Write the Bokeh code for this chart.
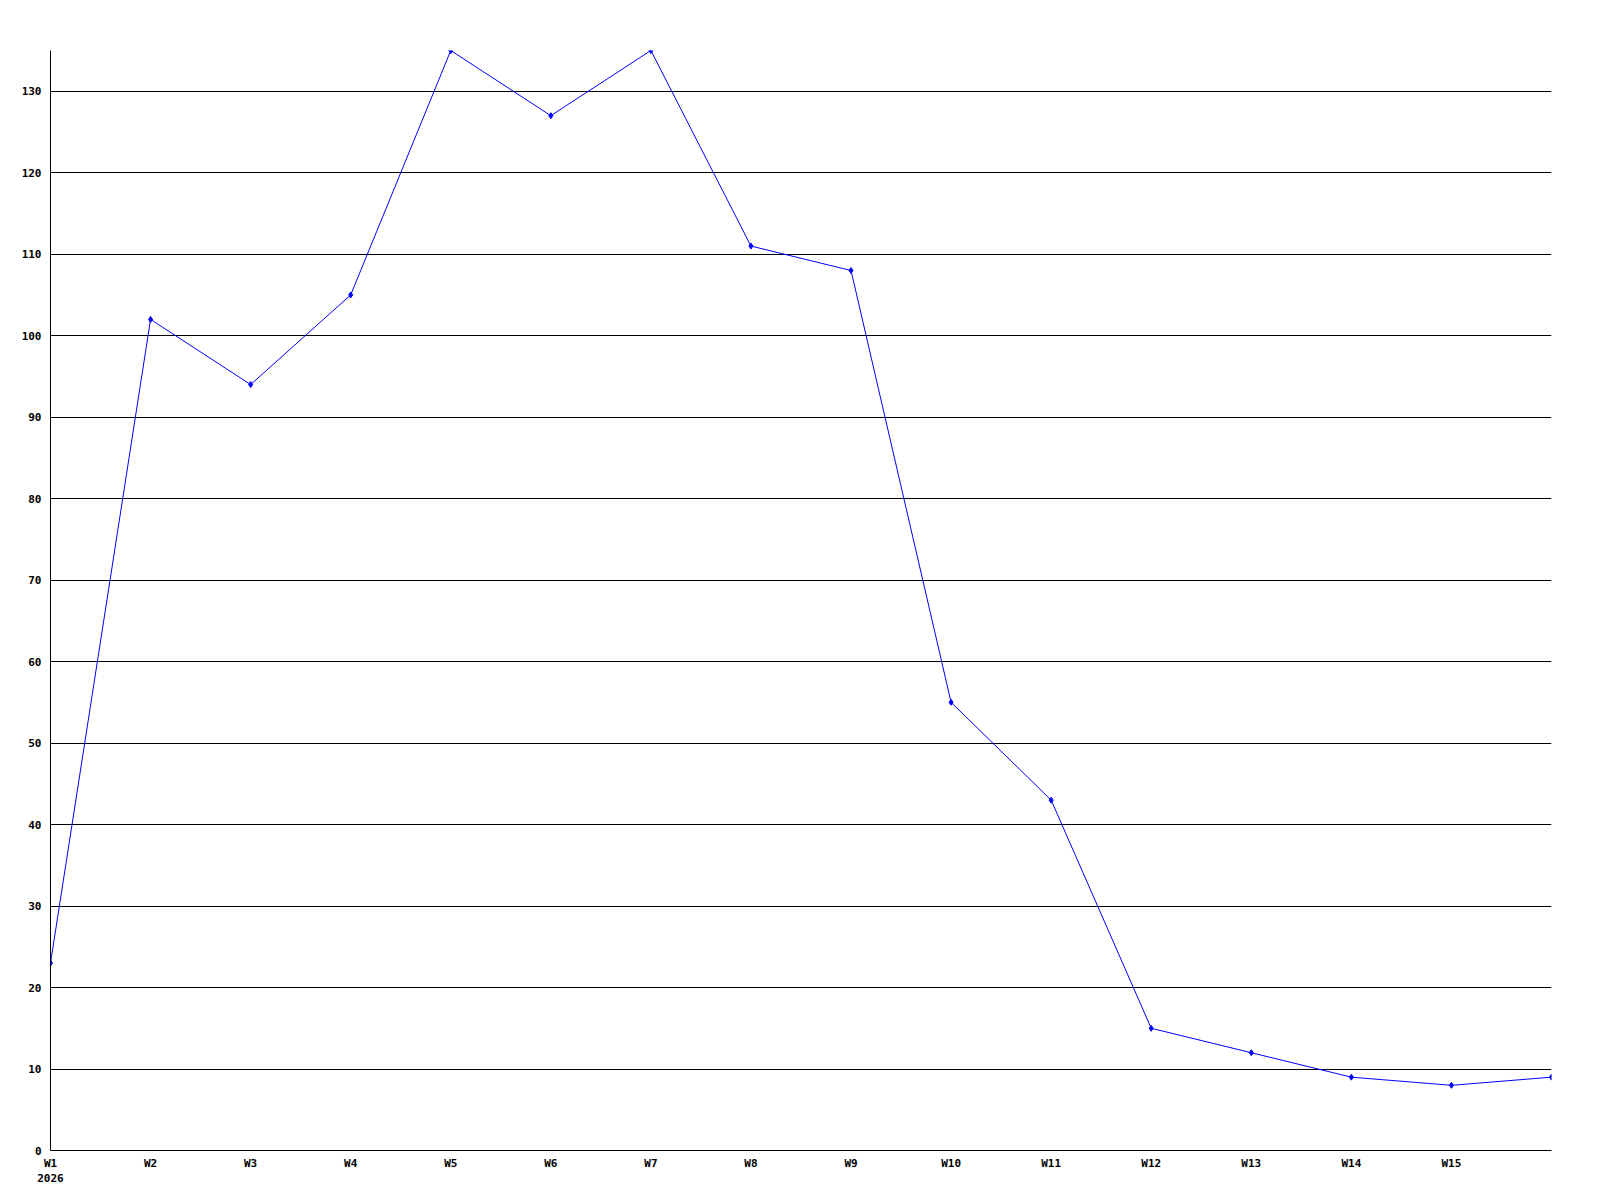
from bokeh.plotting import figure
from bokeh.models import FixedTicker, Range1d, ColumnDataSource
from bokeh.embed import file_html
from bokeh.resources import INLINE

week_labels = ["W1\n2026", "W2", "W3", "W4", "W5", "W6", "W7", "W8", "W9",
               "W10", "W11", "W12", "W13", "W14", "W15", "W16"]
values = [23, 102, 94, 105, 135, 127, 135, 111, 108, 55, 43, 15, 12, 9, 8, 9]
y_ticks = [0, 10, 20, 30, 40, 50, 60, 70, 80, 90, 100, 110, 120, 130]
labeled_weeks = 15

x = list(range(len(values)))
src = ColumnDataSource(dict(x=x, y=values))

p = figure(width=1592, height=1192, output_backend="svg", toolbar_location=None,
           x_range=Range1d(0, len(values) - 1), y_range=Range1d(0, 135),
           min_border_left=50, min_border_right=41, min_border_top=50, min_border_bottom=42)
p.outline_line_color = None
p.background_fill_color = "white"
p.border_fill_color = "white"

p.line("x", "y", source=src, line_color="#0000ff", line_width=1)
p.scatter("x", "y", source=src, marker="diamond", size=6, color="#0000ff")

font = "DejaVu Sans Mono"
p.xaxis.ticker = FixedTicker(ticks=x[:labeled_weeks])
p.xaxis.major_label_overrides = {i: week_labels[i] for i in range(labeled_weeks)}
p.yaxis.ticker = FixedTicker(ticks=y_ticks)
for ax in (p.xaxis, p.yaxis):
    ax.major_tick_in = 0
    ax.major_tick_out = 0
    ax.minor_tick_in = 0
    ax.minor_tick_out = 0
    ax.axis_line_color = "black"
    ax.axis_line_width = 1
    ax.major_label_text_font = font
    ax.major_label_text_font_style = "bold"
    ax.major_label_text_font_size = "11px"
    ax.major_label_text_color = "black"
p.yaxis.major_label_standoff = 9
p.xaxis.major_label_standoff = 6

p.xgrid.grid_line_color = None
p.ygrid.ticker = FixedTicker(ticks=y_ticks)
p.ygrid.grid_line_color = "black"
p.ygrid.grid_line_width = 1
p.ygrid.grid_line_alpha = 1

open("out.html", "w").write(file_html(p, INLINE))
